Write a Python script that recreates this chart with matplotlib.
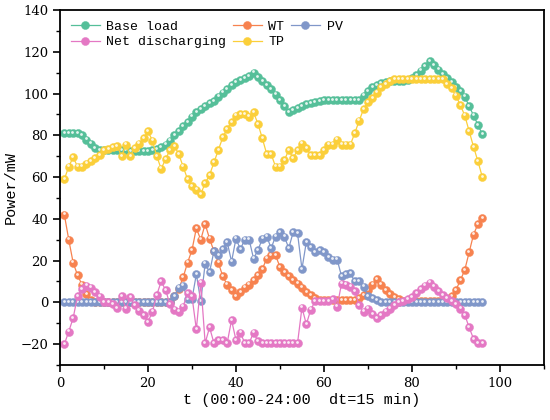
import matplotlib
matplotlib.use("Agg")
import matplotlib.pyplot as plt
from matplotlib.transforms import offset_copy
import numpy as np

t = list(range(1, 97))

base_load = [81, 81, 81, 81, 80, 78, 76, 74,
             73, 73, 73, 73, 73, 73, 73,
             72.5, 72.5, 72.5, 72.5, 72.5, 73,
             73.5, 74.5, 75.5, 77.5, 80, 82, 84.5, 86.5, 89, 91,
             92.5, 94, 95.5, 96.5, 98.5, 100.5, 102, 104, 105.5, 106.5,
             107.5, 108.5, 110, 108, 106, 104, 102, 99.5, 97, 94,
             91, 92, 93, 94, 95, 95.5, 96, 96.5,
             97, 97, 97, 97, 97, 97, 97, 97, 97,
             99, 101, 103, 104, 105, 105.5, 106, 106, 106, 106, 106.5,
             107.5, 109, 111, 113, 115.5, 113.5, 111.5, 109.5, 107.5, 105.5,
             103, 101, 98.5, 94, 89.5, 85, 80.5]

wt = [42, 30, 19, 13, 8.5, 4, 1,
      0, 0, 0, 0, 0, 0, 0, 0, 0, 0, 0, 0, 0, 0, 0, 0, 0, 0,
      3, 6.5, 12, 19, 25, 35.5, 30, 37.5, 30.5, 24.5,
      19, 12.5, 8.5, 6, 3, 5, 7, 8.5, 10.5, 13,
      16, 21, 22.5, 22.5, 17, 14.5, 12.5, 10.5, 9, 7,
      5, 3.5, 2,
      1, 1, 1, 1, 1, 1, 1, 1, 1,
      2, 3.5, 6, 8.5, 11, 8.5, 6, 4, 2.5, 1.5,
      0.5, 0.5, 0.5, 0.5, 0.5, 0.5, 0.5, 0.5, 0.5, 0.5, 0.5,
      3, 6, 10.5, 15.5, 24, 32.5, 37.5, 40.5]

pv = [0] * 25 + [3, 7, 8, 1.5, 1.5, 13.5, 0.5, 18.5, 14.5, 24.5,
                 22.5, 25.5, 29, 19.5, 30.5, 25.5, 30, 30, 21, 25,
                 30.5, 31.5, 26, 31.5, 33.5, 31.5, 26, 33.5, 33, 16,
                 29, 26.5, 24, 25, 24, 21.5, 20.5, 20.5, 12.5, 13.5,
                 14, 10, 10, 7.5, 3, 2, 1] + [0] * 24

net_dis = [-20, -14, -7.5, 3, 6.5, 8, 7, 5, 2.8, 0,
           0, -1, -2.7, 3, -3, 2.5, -1.5, -4, -6, -9.5,
           -4.5, 3.5, 10, 6, -1, -3.5, -4.5, -2, 4.5, 3,
           -13, 9.5, -19.5, -12, -19.5, -18, -18, -19.5, -8.5, -18,
           -14.5, -19.5, -19.5, -14.5, -18.5,
           -19.5, -19.5, -19.5, -19.5, -19.5, -19.5, -19.5, -19.5, -19.5,
           -2.5, -10.5, -3.5, 0.5, 0.5, 0.5, 0.5, 1.5, -2, 9,
           8.5, 7.5, 5.5, -1.5, -4.5, -3, -5.5, -7.5, -6, -4.5,
           -3, -1.5, 0, 0.5, 1.5, 2.5, 4.5, 6.5, 8, 9.5,
           7.5, 5.5, 3.5, 2, 0.5, -1, -3, -6, -12, -17.5,
           -19.5, -19.5]

tp = [59, 65, 69.5, 65, 65, 66.5, 67.5, 69, 70.5, 73,
      73.5, 74.5, 75, 70, 75.5, 70, 74, 76, 78.5, 82,
      77.5, 70, 64, 68.5, 73, 75, 71, 65, 59, 55.5,
      54, 52, 57, 61, 67, 73, 79, 83, 86.5, 89.5,
      90, 90, 89, 91, 85.5, 78.5, 71, 71, 65, 65,
      68, 73, 69, 73, 76, 74, 70.5, 70.5, 70.5, 73,
      75.5, 75.5, 78, 75.5, 75.5, 75.5, 81, 87, 92.5, 96,
      98, 100.5, 103, 104.5, 106,
      107, 107, 107, 107, 107, 107, 107, 107, 107, 107, 107, 107,
      104.5, 102.5, 99, 94.5, 89.5, 82, 74.5, 67.5, 60]

series_names = ["Base load", "WT", "PV", "Net discharging", "TP"]
series_data = [base_load, wt, pv, net_dis, tp]
colors = ["#55bf99", "#f7824f", "#8097c9", "#e478c4", "#fbcf3a"]

fig = plt.figure(figsize=(5.5, 4.2), dpi=100)
ax = fig.add_axes([0.109, 0.131, 0.880, 0.845])

hl = offset_copy(ax.transData, fig=fig, x=-0.5, y=0.9, units='points')
handles = {}
for name, data, c in zip(series_names, series_data, colors):
    n = min(len(t), len(data))
    x = t[:n]
    y = data[:n]
    ln, = ax.plot(x, y, '-', color=c, lw=0.9, marker='o', ms=5.8,
                  mec=c, mew=0.3, mfc=c, label=name)
    ax.plot(x, y, 'o', ms=2.0, color='white', alpha=0.85, mew=0,
            transform=hl)
    handles[name] = ln

ax.set_xlim(0, 110)
ax.set_ylim(-30, 140)
ax.set_xticks(np.arange(0, 101, 20))
ax.set_xticks(np.arange(10, 111, 20), minor=True)
ax.set_yticks(np.arange(-20, 141, 20))
ax.set_yticks(np.arange(-30, 141, 10), minor=True)
ax.tick_params(which='major', direction='out', length=5, width=1.2,
               labelsize=9.5)
ax.tick_params(which='minor', direction='out', length=3, width=1.0)
for lab in ax.get_xticklabels() + ax.get_yticklabels():
    lab.set_fontfamily('DejaVu Serif')
for sp in ax.spines.values():
    sp.set_linewidth(1.3)

ax.set_xlabel("t (00:00-24:00  dt=15 min)", fontfamily='Liberation Mono',
              fontsize=11, labelpad=2)
ax.set_ylabel("Power/mW", fontfamily='Liberation Mono', fontsize=11,
              labelpad=2)

order = ["Base load", "Net discharging", "WT", "TP", "PV"]
leg = ax.legend([handles[k] for k in order], order, ncol=3, loc='upper left',
                bbox_to_anchor=(0.0, 1.0), frameon=False,
                prop={'family': 'Liberation Mono', 'size': 9.5},
                handlelength=2.2, handletextpad=0.5, columnspacing=0.5,
                labelspacing=0.25, borderaxespad=0.4)

fig.savefig("out.png", dpi=100)
